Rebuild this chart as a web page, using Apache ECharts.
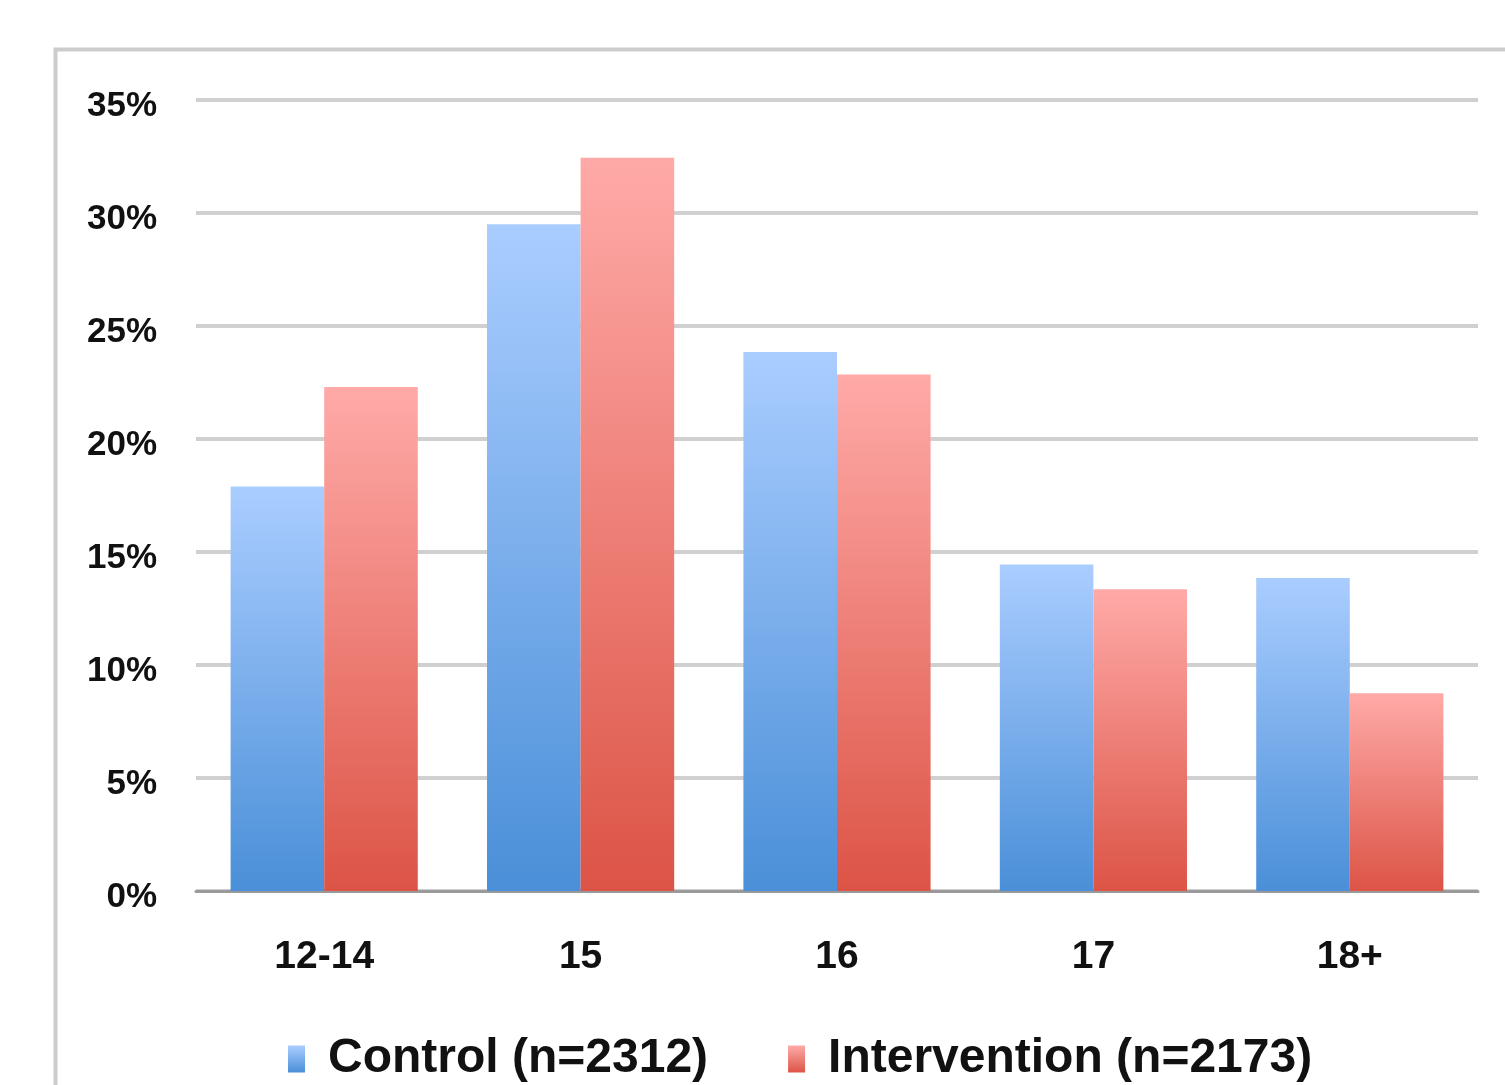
<!DOCTYPE html>
<html><head><meta charset="utf-8">
<script src="https://cdn.jsdelivr.net/npm/echarts@6/dist/echarts.min.js"></script>
<style>html,body{margin:0;padding:0;background:#fff;}#c{width:1505px;height:1085px;}</style>
</head><body><div id="c"></div>
<script>
const categories = ['12-14', '15', '16', '17', '18+'];
const controlValues = [17.9, 29.5, 23.85, 14.45, 13.85];
const interventionValues = [22.3, 32.45, 22.85, 13.35, 8.75];
const seriesNames = ['Control (n=2312)', 'Intervention (n=2173)'];
const yTicks = [0, 5, 10, 15, 20, 25, 30, 35];

const chart = echarts.init(document.getElementById('c'));
const grad = (top, bottom) => new echarts.graphic.LinearGradient(0, 0, 0, 1, [
  {offset: 0, color: top}, {offset: 1, color: bottom}]);
const font = '"Liberation Sans", Arial, sans-serif';
chart.setOption({
  animation: false,
  backgroundColor: '#fff',
  graphic: [{
    type: 'rect', left: 53, top: 47, shape: {width: 1500, height: 1100},
    style: {fill: 'none', stroke: '#cccccc', lineWidth: 4}, silent: true
  }],
  grid: {left: 196, right: 27, top: 100, bottom: 194},
  legend: {
    data: seriesNames, left: 283, top: 1030, icon: 'rect',
    itemWidth: 17, itemHeight: 27, itemGap: 80,
    textStyle: {fontFamily: font, fontSize: 48, fontWeight: 'bold', color: '#111', padding: [0, 0, 0, 18]}
  },
  xAxis: {
    type: 'category', data: categories,
    axisLine: {lineStyle: {color: '#9a9a9a', width: 3}},
    axisTick: {show: false},
    axisLabel: {fontFamily: font, fontSize: 39, fontWeight: 'bold', color: '#111', margin: 47}
  },
  yAxis: {
    type: 'value', min: 0, max: 35, interval: 5,
    axisLine: {show: false}, axisTick: {show: false},
    splitLine: {lineStyle: {color: '#d0d0d0', width: 4}},
    axisLabel: {color: '#111', margin: 39,
      formatter: v => yTicks.includes(v) ? '{a|' + v + '%}' : '',
      rich: {a: {fontFamily: font, fontSize: 35, fontWeight: 'bold', color: '#111', padding: [12, 0, 0, 0]}}}
  },
  series: [{
    name: seriesNames[0], type: 'bar', data: controlValues,
    barGap: '0%', barCategoryGap: '27%',
    itemStyle: {color: grad('#aacdff', '#4a8fd8')}
  }, {
    name: seriesNames[1], type: 'bar', data: interventionValues,
    barGap: '0%', barCategoryGap: '27%',
    itemStyle: {color: grad('#ffaaa8', '#dc5446')}
  }]
});
</script></body></html>
